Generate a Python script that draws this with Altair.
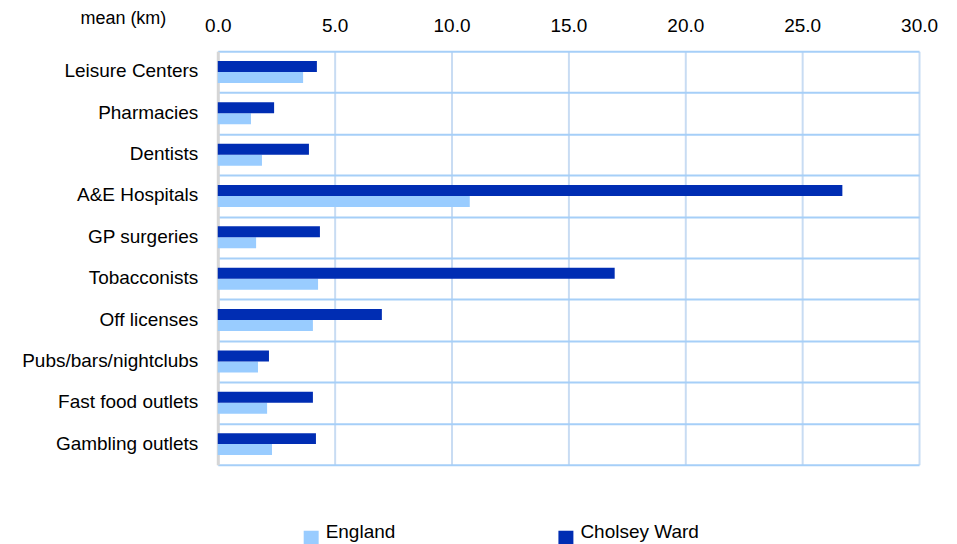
import altair as alt
import pandas as pd

categories = ["Leisure Centers", "Pharmacies", "Dentists", "A&E Hospitals", "GP surgeries",
              "Tobacconists", "Off licenses", "Pubs/bars/nightclubs", "Fast food outlets",
              "Gambling outlets"]
cholsey = [4.24, 2.41, 3.90, 26.72, 4.37, 16.98, 7.02, 2.19, 4.07, 4.20]
england = [3.65, 1.42, 1.89, 10.78, 1.64, 4.29, 4.07, 1.72, 2.11, 2.32]
series_names = ["England", "Cholsey Ward"]
x_ticks = [0, 5, 10, 15, 20, 25, 30]

rows = []
for c, v in zip(categories, england):
    rows.append({"category": c, "series": "England", "value": v})
for c, v in zip(categories, cholsey):
    rows.append({"category": c, "series": "Cholsey Ward", "value": v})
df = pd.DataFrame(rows)

FONT = "Liberation Sans"
FS = 19

chart = alt.Chart(df).mark_bar().encode(
    x=alt.X("value:Q",
            scale=alt.Scale(domain=[0, 30], nice=False, zero=True),
            axis=alt.Axis(orient="top", values=x_ticks, format=".1f",
                          title="mean (km)", titleX=-95, titleY=-28,
                          titleAlign="center", titleBaseline="alphabetic",
                          titleFontWeight="normal", titleFontSize=18, titleFont=FONT,
                          titleColor="#000000", titleAngle=0,
                          labelFont=FONT, labelFontSize=FS, labelColor="#000000",
                          labelFlush=False,
                          labelPadding=16, ticks=False, tickSize=0, domain=False,
                          grid=True, gridColor="#c8dcf3", gridWidth=2)),
    y=alt.Y("category:N", sort=categories,
            scale=alt.Scale(paddingInner=0, paddingOuter=0),
            axis=alt.Axis(title=None, tickBand="extent", grid=True,
                          gridColor="#a6cff8", gridWidth=2,
                          ticks=False, tickSize=0, labelPadding=20, labelOffset=-1,
                          labelFont=FONT, labelFontSize=FS, labelColor="#000000",
                          domain=True, domainColor="#d6d6d6", domainWidth=3,
                          labelLimit=300)),
    yOffset=alt.YOffset("series:N", sort=["Cholsey Ward", "England"],
                        scale=alt.Scale(paddingInner=0, paddingOuter=0.88)),
    color=alt.Color("series:N",
                    scale=alt.Scale(domain=series_names, range=["#99ccff", "#002db3"]),
                    legend=alt.Legend(title=None, orient="none", legendX=84, legendY=478,
                                      direction="horizontal", columns=2,
                                      symbolType="square", symbolSize=225,
                                      symbolStrokeWidth=0, symbolOffset=0,
                                      labelFont=FONT, labelFontSize=FS,
                                      labelColor="#000000", labelOffset=5,
                                      labelBaseline="alphabetic",
                                      columnPadding=161)),
).properties(
    width=702, height=414,
    autosize=alt.AutoSizeParams(type="none"),
    padding={"left": 210, "top": 43, "right": 30, "bottom": 85},
).configure_view(stroke=None).configure_axis(gridOpacity=1)

chart.save("out.html", embed_options={"renderer": "svg", "actions": False})
